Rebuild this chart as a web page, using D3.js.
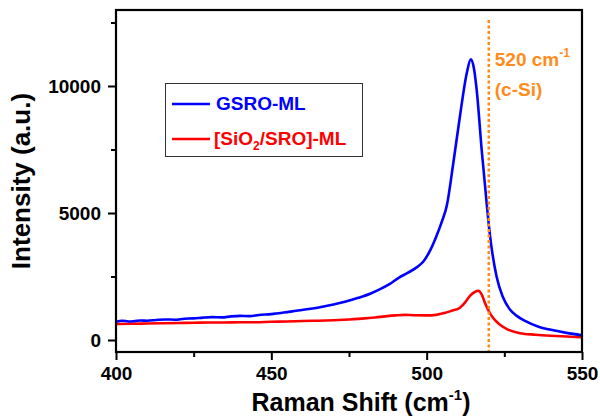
<!DOCTYPE html>
<html>
<head>
<meta charset="utf-8">
<script src="https://cdn.jsdelivr.net/npm/d3@7"></script>
<style>
  html, body { margin: 0; padding: 0; background: #fff; }
  svg { display: block; }
  text { font-family: Arial, "Liberation Sans", sans-serif; font-weight: bold; }
</style>
</head>
<body>
<svg id="chart" width="600" height="418"></svg>
<script>
// ---- Data ----
const gsroX = [400,402,404,406,408,410,413,416,419,422,425,428,431,434,437,440,443,446,450,454,458,462,466,470,474,478,482,485,488,491,494,497,499,501,503,505,506.5,508.5,510.7,512.9,514.2,515.2,516.1,517.7,519.3,520.4,522.5,524.5,526.8,529,532,536,540,545,550];
const gsroY = [720,760,730,745,770,760,790,810,800,840,850,880,900,890,930,950,940,985,1020,1080,1150,1220,1300,1400,1520,1660,1830,2000,2200,2450,2650,2880,3100,3500,4050,4700,5300,6900,8800,10500,11050,10700,9850,7500,5400,4100,2500,1700,1200,950,730,520,400,280,190];
const sioX = [400,405,410,415,420,425,430,435,440,445,450,455,460,465,470,475,480,485,490,493,496,500,503,506,508,510.7,512.5,514,515.5,516.6,517.7,518.8,520.4,522,523.6,526,530,535,540,545,550];
const sioY = [630,640,650,660,670,680,690,690,700,700,720,730,750,760,780,810,850,910,970,990,975,970,990,1070,1150,1270,1500,1750,1890,1940,1800,1450,1050,780,600,420,270,210,170,140,110];
const seriesNames = ["GSRO-ML", "[SiO2/SRO]-ML"];
const xTicks = [400, 450, 500, 550];
const xMinor = [425, 475, 525];
const yTicks = [0, 5000, 10000];
const yMinor = [2500, 7500, 12500];
const siPeak = 520;

// ---- Layout ----
const svg = d3.select("#chart");
const L = 116, R = 582, T = 10, B = 352;
const x = d3.scaleLinear().domain([400, 550]).range([L, R]);
const y = d3.scaleLinear().domain([-472, 12992]).range([B, T]);

// axes
const xAxis = svg.append("g").attr("transform", `translate(0,${B})`)
  .call(d3.axisBottom(x).tickValues(xTicks).tickSize(8).tickPadding(7).tickFormat(d3.format("d")));
const xAxisMinor = svg.append("g").attr("transform", `translate(0,${B})`)
  .call(d3.axisBottom(x).tickValues(xMinor).tickSize(5).tickFormat(""));
const yAxis = svg.append("g").attr("transform", `translate(${L},0)`)
  .call(d3.axisLeft(y).tickValues(yTicks).tickSize(8).tickPadding(7).tickFormat(d3.format("d")));
const yAxisMinor = svg.append("g").attr("transform", `translate(${L},0)`)
  .call(d3.axisLeft(y).tickValues(yMinor).tickSize(5).tickFormat(""));
[xAxis, xAxisMinor, yAxis, yAxisMinor].forEach(g => {
  g.select(".domain").remove();
  g.selectAll("line").attr("stroke", "#000").attr("stroke-width", 2);
  g.selectAll("text").attr("font-size", 19).attr("fill", "#000")
    .attr("font-family", "Arial, 'Liberation Sans', sans-serif").attr("font-weight", "bold");
});

// lines
const line = d3.line().curve(d3.curveMonotoneX).x(d => x(d[0])).y(d => y(d[1]));
svg.append("path").datum(sioX.map((v, i) => [v, sioY[i]]))
  .attr("d", line).attr("fill", "none").attr("stroke", "#ff0000").attr("stroke-width", 2.6);
svg.append("path").datum(gsroX.map((v, i) => [v, gsroY[i]]))
  .attr("d", line).attr("fill", "none").attr("stroke", "#0000ff").attr("stroke-width", 2.6);

// 520 dotted line
const orange = "#ff8c1a";
svg.append("line").attr("x1", x(siPeak)).attr("x2", x(siPeak)).attr("y1", 20).attr("y2", B)
  .attr("stroke", orange).attr("stroke-width", 2.6).attr("stroke-dasharray", "3,2.5");
const ann = svg.append("text").attr("x", x(siPeak) + 6).attr("y", 66).attr("fill", orange).attr("font-size", 19);
ann.append("tspan").text("520 cm");
ann.append("tspan").text("-1").attr("font-size", 12).attr("dy", -9);
svg.append("text").attr("x", x(siPeak) + 6).attr("y", 96).attr("fill", orange).attr("font-size", 19).text("(c-Si)");

// frame
svg.append("rect").attr("x", L).attr("y", T).attr("width", R - L).attr("height", B - T)
  .attr("fill", "none").attr("stroke", "#000").attr("stroke-width", 2.2);

// legend
const lg = svg.append("g");
lg.append("rect").attr("x", 165.5).attr("y", 83.5).attr("width", 197).attr("height", 73)
  .attr("fill", "#fff").attr("stroke", "#333").attr("stroke-width", 1);
lg.append("line").attr("x1", 172).attr("x2", 210).attr("y1", 104).attr("y2", 104)
  .attr("stroke", "#0000ff").attr("stroke-width", 2.6);
lg.append("text").attr("x", 216).attr("y", 110).attr("fill", "#0000ff").attr("font-size", 19).text(seriesNames[0]);
lg.append("line").attr("x1", 172).attr("x2", 210).attr("y1", 139).attr("y2", 139)
  .attr("stroke", "#ff0000").attr("stroke-width", 2.6);
const t2 = lg.append("text").attr("x", 214).attr("y", 145).attr("fill", "#ff0000").attr("font-size", 19);
t2.append("tspan").text("[SiO");
t2.append("tspan").text("2").attr("font-size", 12).attr("dy", 5);
t2.append("tspan").text("/SRO]-ML").attr("dy", -5);

// axis titles
const xt = svg.append("text").attr("x", 361).attr("y", 411).attr("text-anchor", "middle")
  .attr("font-size", 25).attr("fill", "#000");
xt.append("tspan").text("Raman Shift (cm");
xt.append("tspan").text("-1").attr("font-size", 15).attr("dy", -11);
xt.append("tspan").text(")").attr("dy", 11);
svg.append("text").attr("transform", "translate(30,181) rotate(-90)").attr("text-anchor", "middle")
  .attr("font-size", 26).attr("fill", "#000").text("Intensity (a.u.)");
</script>
</body>
</html>
